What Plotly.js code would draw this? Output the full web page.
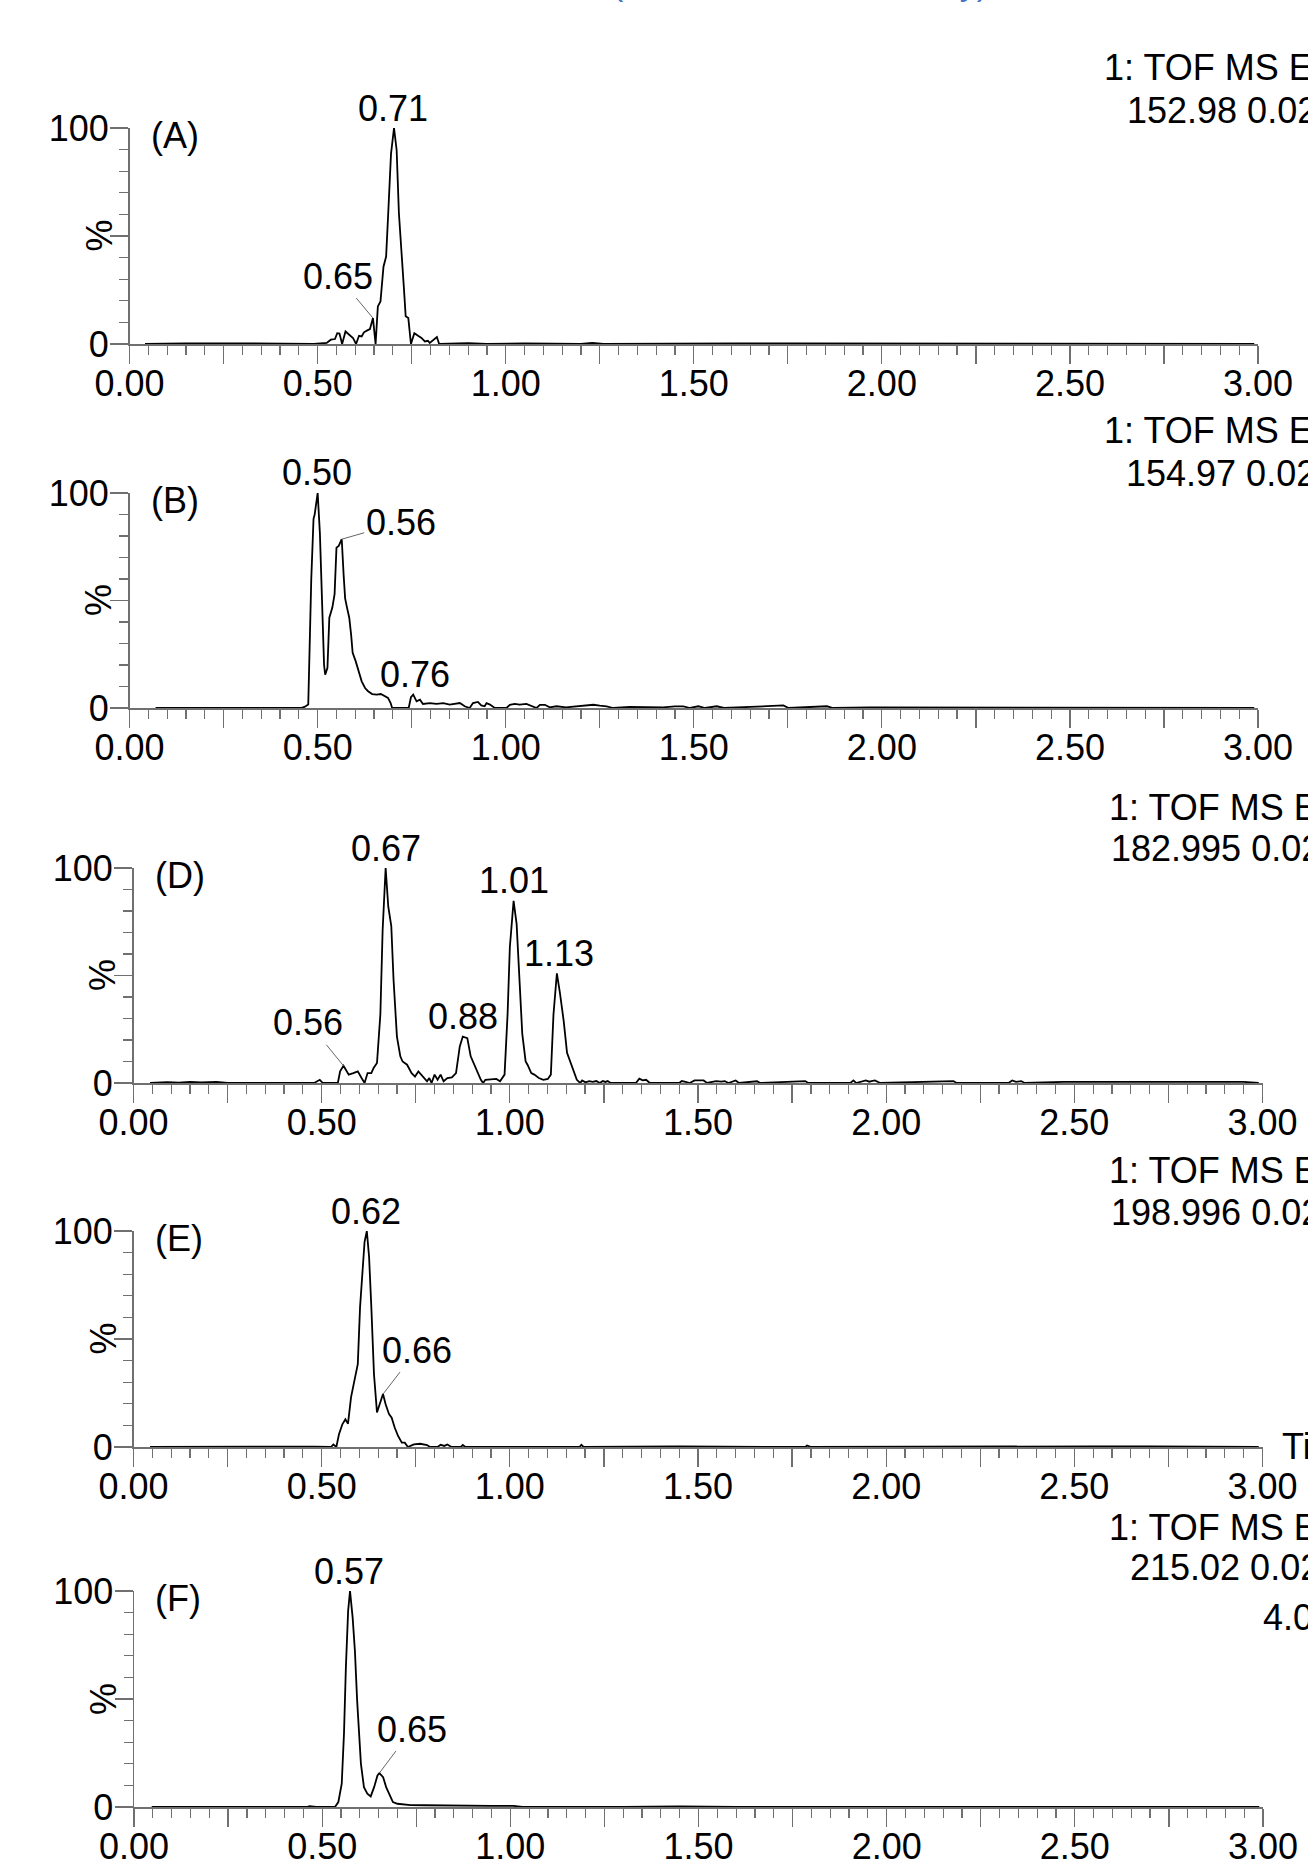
<!DOCTYPE html>
<html><head><meta charset="utf-8">
<script src="https://cdn.plot.ly/plotly-3.0.1.min.js"></script>
<style>html,body{margin:0;padding:0;background:#fff;overflow:hidden}</style>
</head><body><div id="chart" style="width:1308px;height:1862px"></div>
<script>
// ---------------- DATA ----------------
const timeA = [0.041,0.148,0.283,0.49,0.524,0.535,0.546,0.552,0.558,0.565,0.574,0.583,0.594,0.602,0.61,0.617,0.623,0.632,0.639,0.647,0.654,0.66,0.667,0.675,0.682,0.688,0.695,0.703,0.71,0.716,0.723,0.729,0.734,0.741,0.748,0.757,0.767,0.776,0.785,0.793,0.798,0.809,0.817,0.823,0.9,0.95,1.05,1.2,1.23,1.26,1.45,1.62,1.75,1.9,2.05,2.2,2.45,2.6,2.8,2.99];
const intA  = [0,0.3,0.3,0,0.5,2,2.3,5,4.8,0,5.8,4.3,2.8,0,3.8,3.5,5.4,6.3,6.9,12,0,17.4,19.7,35.8,40.5,62,88,100,89.7,60.5,39,26.6,12.8,12,0,5,3.8,2.8,1.2,1.5,0.5,2,3.2,0,0.4,0,0.3,0,0.5,0,0.3,0.3,0.3,0.3,0.3,0.3,0.3,0.3,0.3,0];

const timeB = [0.069,0.455,0.465,0.475,0.483,0.489,0.492,0.5,0.506,0.511,0.517,0.52,0.526,0.531,0.539,0.545,0.55,0.556,0.564,0.569,0.573,0.578,0.584,0.589,0.593,0.601,0.609,0.617,0.626,0.634,0.645,0.657,0.668,0.679,0.687,0.694,0.698,0.742,0.748,0.754,0.763,0.772,0.78,0.798,0.816,0.834,0.851,0.878,0.891,0.904,0.913,0.926,0.935,0.944,0.949,0.958,0.971,1.002,1.011,1.024,1.037,1.055,1.073,1.082,1.091,1.104,1.117,1.135,1.16,1.197,1.215,1.233,1.25,1.268,1.286,1.33,1.419,1.45,1.472,1.49,1.512,1.53,1.561,1.58,1.65,1.712,1.738,1.752,1.854,1.87,1.969,2.99];
const intB  = [0,0,0.5,1.6,60,88,90,100,81,50,20,15.5,18.7,42,46.7,53,74.6,75.4,78.5,62,51,46.7,42,34,25.7,21.8,17,12.4,9.3,7.8,6.5,6.2,6.5,5.4,4.7,2.3,0,0,5,6.2,3.1,3.9,1.9,2.3,1.9,2.3,1.6,2.3,0.8,0,2.3,2.8,1.2,0.8,2.3,1.6,0,0,1.5,1.9,1.6,1.9,0.8,0,1.5,1.5,0.3,0.8,0.3,0.8,1.2,1.5,1.1,0.8,0,0.5,0.3,0.8,0.8,0,0.8,0,0.8,0,0.5,1.2,1.2,0,0.8,0,0.3,0];

const timeD = [0.044,0.09,0.12,0.15,0.18,0.22,0.25,0.48,0.495,0.503,0.543,0.549,0.558,0.567,0.572,0.584,0.596,0.606,0.614,0.622,0.632,0.638,0.647,0.656,0.662,0.67,0.677,0.685,0.691,0.7,0.709,0.715,0.727,0.739,0.748,0.757,0.768,0.78,0.786,0.792,0.8,0.808,0.816,0.824,0.834,0.846,0.857,0.867,0.875,0.887,0.896,0.905,0.914,0.923,0.929,0.935,0.964,0.974,0.986,0.994,1.0,1.01,1.018,1.024,1.033,1.042,1.047,1.057,1.065,1.077,1.089,1.101,1.109,1.116,1.125,1.133,1.143,1.152,1.16,1.17,1.178,1.187,1.192,1.201,1.211,1.22,1.23,1.239,1.247,1.254,1.26,1.268,1.335,1.344,1.353,1.362,1.372,1.45,1.457,1.467,1.478,1.491,1.515,1.524,1.548,1.562,1.571,1.581,1.6,1.609,1.657,1.665,1.785,1.793,1.905,1.913,1.92,1.946,1.955,1.961,1.97,1.984,2.179,2.187,2.325,2.335,2.345,2.359,2.368,2.47,2.5,2.52,2.8,2.88,2.95,2.99];
const intD  = [0,0.4,0.2,0.5,0.3,0.5,0,0,1.5,0,0,5.4,8,5.4,3.9,4.6,5.4,2.3,0,4.6,4.6,7,9.3,32,71,100,82,73,48,21.6,12.4,10,8.5,4.6,3,5.4,3.4,0.8,2.3,0,3.9,1.5,3.9,0.8,2.3,2.6,4.6,17,21.6,20.9,12.4,8.5,5.4,1.5,0,1.5,1.9,0.8,3.9,32,63,84.7,74,54,23,10,8.5,4.6,3.9,2.3,1.5,1.9,3.9,32,51,42,29,14,10,4.6,1.5,0,1.2,0.3,0.9,0.5,0.9,0,0.9,0.5,0.9,0,0,2,1.2,1.5,0,0,0.9,0.5,0,1.2,1.2,0,0.9,0.6,0.9,0,1.2,0,0.8,0,0.9,0,0,1.2,0,1.2,0.6,0.9,1.2,0,0.9,0,0,1.2,0.5,0.9,0,0.5,0.5,0.3,0.3,0.5,0.5,0];

const timeE = [0.044,0.33,0.4,0.45,0.48,0.525,0.531,0.539,0.546,0.555,0.563,0.57,0.578,0.587,0.596,0.602,0.608,0.614,0.62,0.626,0.632,0.639,0.647,0.656,0.663,0.67,0.679,0.686,0.694,0.703,0.713,0.721,0.729,0.745,0.762,0.78,0.788,0.808,0.816,0.826,0.834,0.845,0.87,0.875,0.882,1.185,1.19,1.196,1.45,1.785,1.79,1.8,2.2,2.4,2.55,2.7,2.85,2.99];
const intE  = [0,0.3,0.3,0.3,0.2,0,1.2,0,5.9,10.5,12.8,10.8,23,30.7,38.4,64.7,81.7,95,100,88,64.7,33.7,16,21.4,24.5,19.8,15.2,13.6,9,5.1,2,2,0,1.2,1.5,0.9,0,0,1,0.5,1.2,0,0,0.9,0,0,1,0,0.3,0,0.7,0,0.3,0.3,0.3,0.3,0.3,0];

const timeF = [0.047,0.46,0.466,0.478,0.484,0.534,0.543,0.552,0.558,0.563,0.569,0.574,0.581,0.587,0.593,0.603,0.611,0.62,0.629,0.638,0.647,0.652,0.662,0.67,0.679,0.688,0.7,0.712,0.735,0.771,0.83,0.89,0.949,1.008,1.026,1.032,1.3,1.45,1.6,2.99];
const intF  = [0,0,0.4,0.3,0,0,2.3,10.8,34,64.6,90.8,100,87.7,72.3,49,20,9.2,6.2,4.9,9.2,14.6,15.7,13.8,9.2,5.4,2.3,1.5,1.2,0.9,0.8,0.6,0.6,0.5,0.5,0.3,0,0,0.3,0,0];

const panelLetters = ['(A)','(B)','(D)','(E)','(F)'];
const tofLine1 = ['1: TOF MS ES-','1: TOF MS ES-','1: TOF MS ES-','1: TOF MS ES-','1: TOF MS ES-'];
const tofLine2 = ['152.98 0.02Da','154.97 0.02Da','182.995 0.02Da','198.996 0.02Da','215.02 0.02Da'];
const tofLine3F = '4.00e3';
const timeAxisLabel = 'Time';
const yAxisLabel = '%';
const xTickText = ['0.00','','0.50','','1.00','','1.50','','2.00','','2.50','','3.00'];
const yTickText = ['0','','100'];

// peak labels: retention time text, time, height
const peakTextA = ['0.71','0.65'];   const peakTimeA = [0.70,0.647];  const peakHeightA = [100,12];
const peakTextB = ['0.50','0.56','0.76']; const peakTimeB = [0.498,0.564,0.758]; const peakHeightB = [100,78.5,6.2];
const peakTextD = ['0.67','1.01','1.13','0.88','0.56']; const peakTimeD = [0.67,1.012,1.131,0.875,0.558]; const peakHeightD = [100,84.7,51,21.6,8];
const peakTextE = ['0.62','0.66']; const peakTimeE = [0.617,0.663]; const peakHeightE = [100,24.5];
const peakTextF = ['0.57','0.65']; const peakTimeF = [0.572,0.652]; const peakHeightF = [100,15.7];

const headingFragment = '(Standard solutions only)';

// ---------------- LAYOUT ----------------
const W = 1308, H = 1862;
const FONT = 'Liberation Sans, Arial, Helvetica, sans-serif';
const FS = 36;
const AXC = '#707070';

const series = [
  {t: timeA, y: intA, pt: peakTextA, px: peakTimeA, ph: peakHeightA},
  {t: timeB, y: intB, pt: peakTextB, px: peakTimeB, ph: peakHeightB},
  {t: timeD, y: intD, pt: peakTextD, px: peakTimeD, ph: peakHeightD},
  {t: timeE, y: intE, pt: peakTextE, px: peakTimeE, ph: peakHeightE},
  {t: timeF, y: intF, pt: peakTextF, px: peakTimeF, ph: peakHeightF}
];
// pixel geometry of each panel's plot area
const geom = [
  {x0:129.6, x1:1258,   yTop:128,  yBot:344},
  {x0:129.6, x1:1258,   yTop:493,  yBot:708},
  {x0:133.5, x1:1262.5, yTop:868,  yBot:1083},
  {x0:133.5, x1:1262.5, yTop:1231, yBot:1447},
  {x0:134,   x1:1263,   yTop:1591, yBot:1807}
];
// leader-line offsets (px) for labels that have a leader
const leaders = {
  '0-1': [-35,-42],
  '1-1': [59,-17],
  '2-4': [-35,-43],
  '3-1': [34,-44],
  '4-1': [33,-44]
};
const tofPos = [
  {x1:1102, x2:1125, y1:67,   y2:110},
  {x1:1102, x2:1124, y1:430,  y2:473},
  {x1:1107, x2:1109, y1:807,  y2:848},
  {x1:1107, x2:1109, y1:1170, y2:1212},
  {x1:1107, x2:1128, y1:1527, y2:1567}
];

const xTickVals = xTickText.map((_, i) => i * 0.25);
const yTickVals = [0, 50, 100];

const traces = [];
const layout = {
  width: W, height: H,
  margin: {l:0, r:0, t:0, b:0, pad:0},
  paper_bgcolor: '#fff', plot_bgcolor: 'rgba(0,0,0,0)',
  showlegend: false,
  font: {family: FONT, size: FS, color: '#000'},
  annotations: [],
  hovermode: false
};

series.forEach((s, i) => {
  const g = geom[i];
  const n = i + 1;
  const xa = n === 1 ? 'x' : 'x' + n;
  const ya = n === 1 ? 'y' : 'y' + n;
  traces.push({
    x: s.t, y: s.y, xaxis: xa, yaxis: ya, type: 'scatter', mode: 'lines',
    line: {color: '#000', width: 1.8}, cliponaxis: false, hoverinfo: 'skip'
  });
  layout['xaxis' + (n === 1 ? '' : n)] = {
    domain: [g.x0 / W, g.x1 / W], range: [0, 3], anchor: ya,
    showline: true, linecolor: AXC, linewidth: 1.5, mirror: false,
    ticks: 'outside', ticklen: 18, tickwidth: 1.2, tickcolor: AXC,
    tickmode: 'array', tickvals: xTickVals, ticktext: xTickText,
    ticklabelstandoff: -11,
    tickfont: {family: FONT, size: FS, color: '#000'},
    minor: {ticks: 'outside', ticklen: 9, tickwidth: 1.2, tickcolor: AXC, tickmode: 'linear', tick0: 0, dtick: 0.05, showgrid: false},
    showgrid: false, zeroline: false, fixedrange: true, layer: 'above traces'
  };
  layout['yaxis' + (n === 1 ? '' : n)] = {
    domain: [1 - g.yBot / H, 1 - g.yTop / H], range: [0, 100], anchor: xa,
    showline: true, linecolor: AXC, linewidth: 1.5,
    ticks: 'outside', ticklen: 18, tickwidth: 1.2, tickcolor: AXC,
    tickmode: 'array', tickvals: yTickVals, ticktext: yTickText,
    ticklabelstandoff: -6,
    tickfont: {family: FONT, size: FS, color: '#000'},
    minor: {ticks: 'outside', ticklen: 9, tickwidth: 1.2, tickcolor: AXC, tickmode: 'linear', tick0: 0, dtick: 10, showgrid: false},
    showgrid: false, zeroline: false, fixedrange: true, layer: 'above traces'
  };
  // panel letter
  layout.annotations.push({
    text: panelLetters[i], xref: xa + ' domain', yref: ya + ' domain',
    x: 0.017, y: 0.963, xanchor: 'left', yanchor: 'middle', showarrow: false,
    font: {family: FONT, size: FS, color: '#000'}
  });
  // y-axis title
  layout.annotations.push({
    text: yAxisLabel, xref: 'paper', yref: ya + ' domain',
    x: (g.x0 - 31) / W, y: 0.5, xanchor: 'center', yanchor: 'middle', textangle: -90,
    showarrow: false, font: {family: FONT, size: FS, color: '#000'}
  });
  // peak labels
  s.pt.forEach((txt, k) => {
    const key = i + '-' + k;
    if (leaders[key]) {
      layout.annotations.push({
        text: txt, xref: xa, yref: ya, x: s.px[k], y: s.ph[k],
        showarrow: true, ax: leaders[key][0], ay: leaders[key][1],
        arrowhead: 0, arrowwidth: 1, arrowcolor: '#666', standoff: 0, startstandoff: 0,
        font: {family: FONT, size: FS, color: '#000'}
      });
    } else {
      layout.annotations.push({
        text: txt, xref: xa, yref: ya, x: s.px[k], y: s.ph[k],
        xanchor: 'center', yanchor: 'middle', yshift: 20, showarrow: false,
        font: {family: FONT, size: FS, color: '#000'}
      });
    }
  });
  // TOF header text
  const tp = tofPos[i];
  layout.annotations.push({
    text: tofLine1[i], xref: 'paper', yref: 'paper', x: tp.x1 / W, y: 1 - tp.y1 / H,
    xanchor: 'left', yanchor: 'middle', showarrow: false, font: {family: FONT, size: FS, color: '#000'}
  });
  layout.annotations.push({
    text: tofLine2[i], xref: 'paper', yref: 'paper', x: tp.x2 / W, y: 1 - tp.y2 / H,
    xanchor: 'left', yanchor: 'middle', showarrow: false, font: {family: FONT, size: FS, color: '#000'}
  });
});

layout.annotations.push({
  text: tofLine3F, xref: 'paper', yref: 'paper', x: 1261 / W, y: 1 - 1617 / H,
  xanchor: 'left', yanchor: 'middle', showarrow: false, font: {family: FONT, size: FS, color: '#000'}
});
layout.annotations.push({
  text: timeAxisLabel, xref: 'paper', yref: 'paper', x: 1280 / W, y: 1 - 1446 / H,
  xanchor: 'left', yanchor: 'middle', showarrow: false, font: {family: FONT, size: FS, color: '#000'}
});
layout.annotations.push({
  text: headingFragment, xref: 'paper', yref: 'paper', x: 610 / W, y: 1 + 17 / H,
  xanchor: 'left', yanchor: 'middle', showarrow: false,
  font: {family: FONT, size: 34, color: '#4472C4'}
});

Plotly.newPlot('chart', traces, layout, {displayModeBar: false, staticPlot: true});
</script>
</body></html>
